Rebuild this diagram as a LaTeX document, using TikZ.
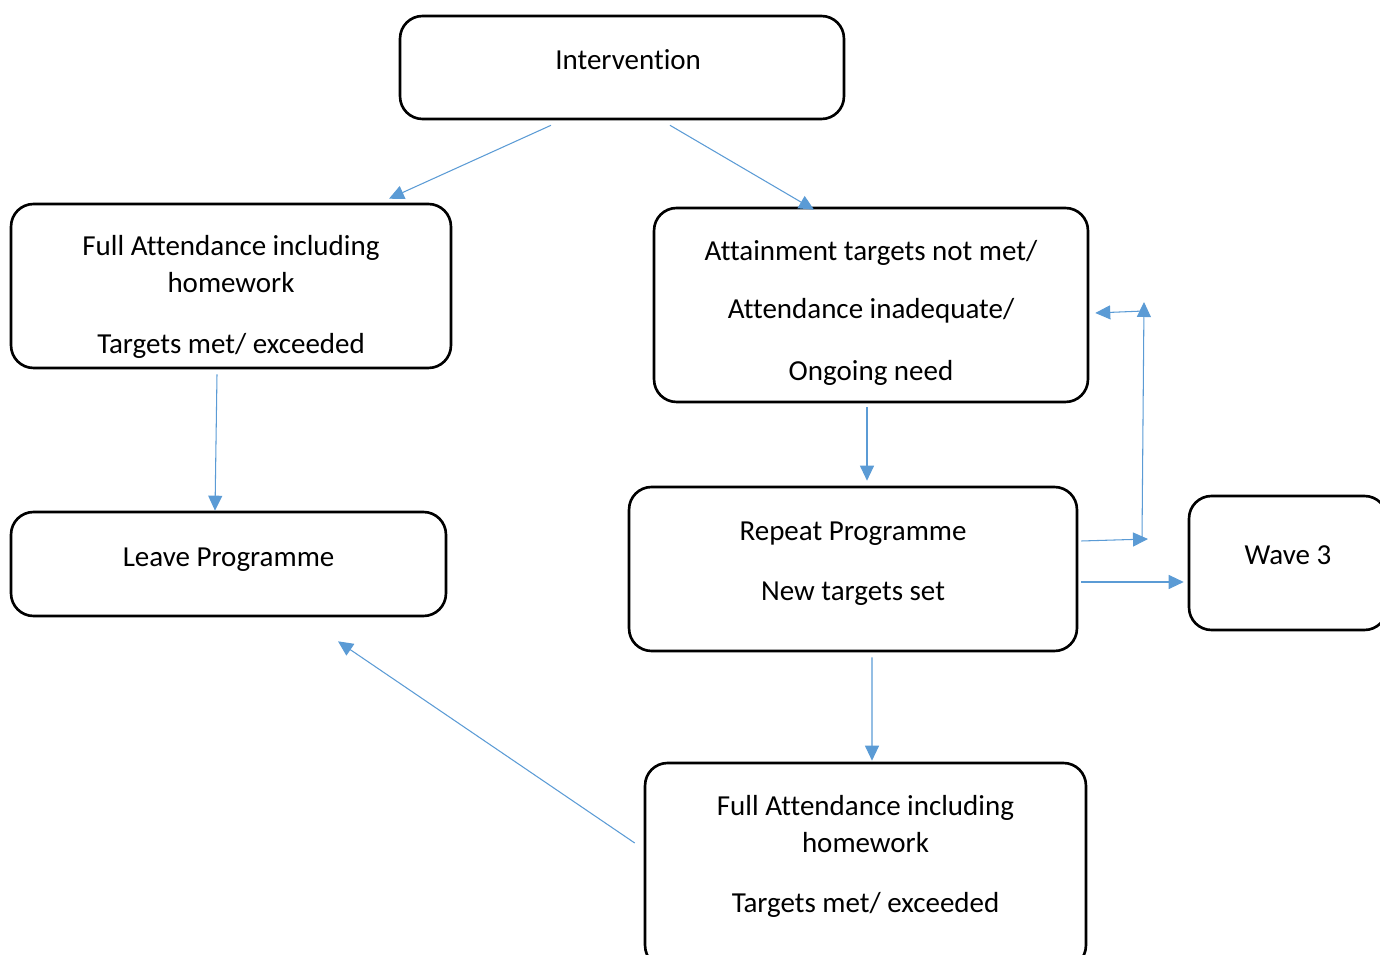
\documentclass[tikz,border=0pt]{standalone}
\usepackage{fontspec}
\setmainfont{Carlito}[Ligatures={NoCommon}]
\usepackage{xcolor}
\usepackage{tikz}
\usetikzlibrary{arrows.meta,calc}
\definecolor{lineblue}{HTML}{5B9BD5}
% struts to move the text a little inside a box
\newcommand{\topgap}[1]{\rule{0pt}{#1}}
\newcommand{\botgap}[1]{\rule[-#1]{0pt}{#1}}

\begin{document}
\begin{tikzpicture}[x=0.02cm, y=-0.02cm,
    box/.style={draw, line width=1.5pt, rounded corners=0.45cm, align=center,
        font=\fontsize{16.5}{21}\selectfont},
    arr/.style={draw=lineblue, line width=0.6pt,
        -{Triangle[length=0.3cm, width=0.28cm, fill=lineblue]}}]
    \useasboundingbox (0,0) rectangle (1380,955);

    \node[box, minimum width=8.88cm, minimum height=2.06cm] (intv) at (622,67.5) {\hspace{7pt}Intervention\botgap{9.6pt}};
    \node[box, minimum width=8.8cm, minimum height=3.28cm] (fa1) at (231,286)
        {\topgap{24pt}Full Attendance including\\homework\\[14pt]Targets met/ exceeded};
    \node[box, minimum width=8.68cm, minimum height=3.88cm] (att) at (871,305)
        {\topgap{20.5pt}Attainment targets not met/\\[12pt]Attendance inadequate/\\[14pt]Ongoing need};
    \node[box, minimum width=8.7cm, minimum height=2.08cm] (leave) at (228.5,564) {Leave Programme\botgap{8pt}};
    \node[box, minimum width=8.96cm, minimum height=3.28cm] (rep) at (853,569)
        {Repeat Programme\\[13pt]New targets set\botgap{9pt}};
    \node[box, minimum width=3.96cm, minimum height=2.68cm] (wave) at (1288,563) {Wave 3\botgap{9.1pt}};
    \node[box, minimum width=8.82cm, minimum height=4.1cm] (fa2) at (865.5,865.5)
        {Full Attendance including\\homework\\[13pt]Targets met/ exceeded\botgap{13.5pt}};

    \coordinate (jin) at (1148,539);
    \coordinate (jbot) at (1142,540);
    \coordinate (jtop) at (1144,302);
    \coordinate (jout) at (1144,311);

    \draw[arr] ($(intv.south)+(-71,5)$) -- ($(fa1.north)+(158,-4)$);
    \draw[arr] ($(intv.south)+(48,5)$) -- ($(att.north)+(-57,3)$);
    \draw[arr] ($(fa1.south)+(-14,5)$) -- ($(leave.north)+(-13.5,0)$);
    \draw[arr] ($(att.south)+(-4,4)$) -- ($(rep.north)+(14,-5)$);
    \draw[arr] ($(rep.east)+(3,-28)$) -- (jin);
    \draw[arr] (jbot) -- (jtop);
    \draw[arr] (jout) -- ($(att.east)+(6,8)$);
    \draw[arr] ($(rep.east)+(3,13)$) -- ($(wave.west)+(-4,19)$);
    \draw[arr] ($(rep.south)+(19,5)$) -- ($(fa2.north)+(6.5,-1)$);
    \draw[arr] ($(fa2.west)+(-9,-22.5)$) -- ($(leave.south)+(109.5,24)$);
\end{tikzpicture}
\end{document}
